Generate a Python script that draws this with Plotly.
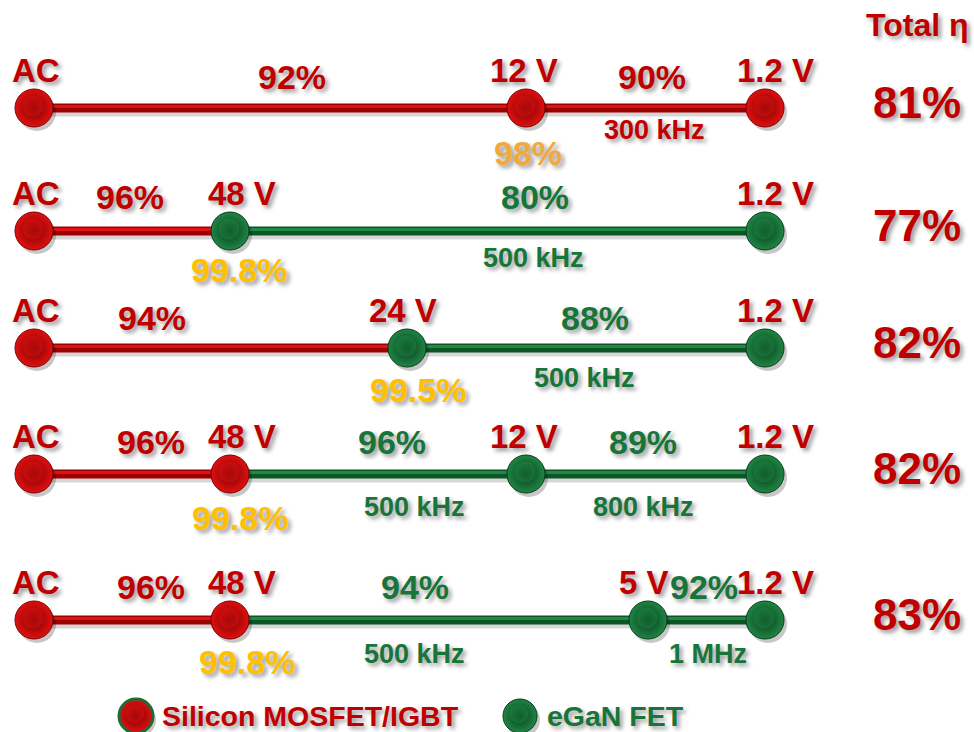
import plotly.graph_objects as go

# ---- data: five AC -> 1.2 V power-conversion chains ----
node_labels = [
    ["AC", "12 V", "1.2 V"],
    ["AC", "48 V", "1.2 V"],
    ["AC", "24 V", "1.2 V"],
    ["AC", "48 V", "12 V", "1.2 V"],
    ["AC", "48 V", "5 V", "1.2 V"],
]
node_tech = [
    ["Si", "Si", "Si"],
    ["Si", "GaN", "GaN"],
    ["Si", "GaN", "GaN"],
    ["Si", "Si", "GaN", "GaN"],
    ["Si", "Si", "GaN", "GaN"],
]
stage_eff = [[92, 90], [96, 80], [94, 88], [96, 96, 89], [96, 94, 92]]
stage_tech = [
    ["Si", "Si"],
    ["Si", "GaN"],
    ["Si", "GaN"],
    ["Si", "GaN", "GaN"],
    ["Si", "GaN", "GaN"],
]
stage_freq = [
    [None, "300 kHz"],
    [None, "500 kHz"],
    [None, "500 kHz"],
    [None, "500 kHz", "800 kHz"],
    [None, "500 kHz", "1 MHz"],
]
bus_eff = [98, 99.8, 99.5, 99.8, 99.8]
total_eff = [81, 77, 82, 82, 83]
legend_names = {"Si": "Silicon MOSFET/IGBT", "GaN": "eGaN FET"}

# ---- layout (pixel canvas coordinates) ----
row_y = [108, 231, 348, 474, 620]
node_x = [
    [34, 526, 765],
    [34, 230, 765],
    [34, 407, 765],
    [34, 230, 526, 765],
    [34, 230, 648, 765],
]
node_label_dx = {"AC": 2, "12 V": -2, "48 V": 12, "24 V": -4, "5 V": -4, "1.2 V": 10}
eff_x = [[292, 652], [130, 535], [152, 595], [151, 392, 643], [151, 415, 704]]
eff_dy = [-31, -34, -30, -32, -33]
freq_x = [[None, 654], [None, 533], [None, 584], [None, 414, 643], [None, 414, 708]]
freq_dy = [22, 27, 30, 33, 34]
bus_x = [528, 239, 418, 240, 247]
bus_dy = [45, 39, 42, 44, 42]
total_x = 917

FONT = "Liberation Sans, Arial, sans-serif"
SHADOW = "3px 3px 4px rgba(0,0,0,0.4)"
TECH = {
    "Si": dict(text="#C00000", dark="#9E0000", light="#DD1414",
               center="#E01010", edge="#7A0000"),
    "GaN": dict(text="#17753A", dark="#0C5626", light="#208A45",
                center="#1F8644", edge="#083A1B"),
}
BUS_COLORS = ["#F2A93B", "#FFC000", "#FFC000", "#FFC000", "#FFC000"]

fig = go.Figure()
annotations = []


def label(x, y, text, color, size, anchor="center"):
    annotations.append(dict(
        x=x, y=y, xref="x", yref="y", text=text, showarrow=False,
        xanchor=anchor, yanchor="middle",
        font=dict(family=FONT, size=size, color=color, weight="bold",
                  shadow=SHADOW),
    ))


def add_node(x, y, tech, size=38, ring=None):
    c = TECH[tech]
    # drop shadow
    fig.add_trace(go.Scatter(
        x=[x + 3], y=[y + 4], mode="markers", hoverinfo="skip",
        marker=dict(size=size, color="rgba(0,0,0,0.22)", line=dict(width=0)),
    ))
    # sphere body
    fig.add_trace(go.Scatter(
        x=[x], y=[y], mode="markers", hoverinfo="skip",
        marker=dict(size=size, color=c["center"],
                    gradient=dict(type="radial", color=c["edge"]),
                    line=dict(width=3 if ring else 1,
                              color=ring if ring else c["edge"])),
    ))
    # soft highlight
    fig.add_trace(go.Scatter(
        x=[x - 1], y=[y - 2], mode="markers", hoverinfo="skip",
        marker=dict(size=size * 0.55, color=c["light"], opacity=0.45,
                    line=dict(width=0)),
    ))


for r, y in enumerate(row_y):
    xs = node_x[r]
    # connecting segments
    for i, tech in enumerate(stage_tech[r]):
        c = TECH[tech]
        x0, x1 = xs[i], xs[i + 1]
        fig.add_trace(go.Scatter(
            x=[x0, x1], y=[y + 5, y + 5], mode="lines", hoverinfo="skip",
            line=dict(color="rgba(0,0,0,0.16)", width=7),
        ))
        fig.add_trace(go.Scatter(
            x=[x0, x1], y=[y, y], mode="lines", hoverinfo="skip",
            line=dict(color=c["dark"], width=9),
        ))
        fig.add_trace(go.Scatter(
            x=[x0, x1], y=[y - 1.5, y - 1.5], mode="lines", hoverinfo="skip",
            line=dict(color=c["light"], width=3),
        ))
        label(eff_x[r][i], y + eff_dy[r], f"{stage_eff[r][i]}%", c["text"], 34)
        if stage_freq[r][i]:
            label(freq_x[r][i], y + freq_dy[r], stage_freq[r][i], c["text"], 27)
    # nodes and voltage labels
    for i, (nx, name) in enumerate(zip(xs, node_labels[r])):
        add_node(nx, y, node_tech[r][i])
        label(nx + node_label_dx[name], y - 38, name, TECH["Si"]["text"], 33)
    # bus-converter efficiency under the intermediate node
    label(bus_x[r], y + bus_dy[r], f"{bus_eff[r]:g}%", BUS_COLORS[r], 34)
    # overall chain efficiency
    label(total_x, y - 6, f"{total_eff[r]}%", TECH["Si"]["text"], 44)

label(total_x, 25, "Total η", TECH["Si"]["text"], 32)

# legend
add_node(136, 716, "Si", size=34, ring="#1E6B35")
label(160, 716, legend_names["Si"], TECH["Si"]["text"], 28.5, anchor="left")
add_node(520, 716, "GaN", size=34)
label(545, 716, legend_names["GaN"], TECH["GaN"]["text"], 28.5, anchor="left")

fig.update_layout(
    width=974, height=732,
    margin=dict(l=0, r=0, t=0, b=0),
    paper_bgcolor="white", plot_bgcolor="white",
    showlegend=False,
    annotations=annotations,
    xaxis=dict(range=[0, 974], visible=False, fixedrange=True),
    yaxis=dict(range=[732, 0], visible=False, fixedrange=True),
)

fig.write_html("out.html")
